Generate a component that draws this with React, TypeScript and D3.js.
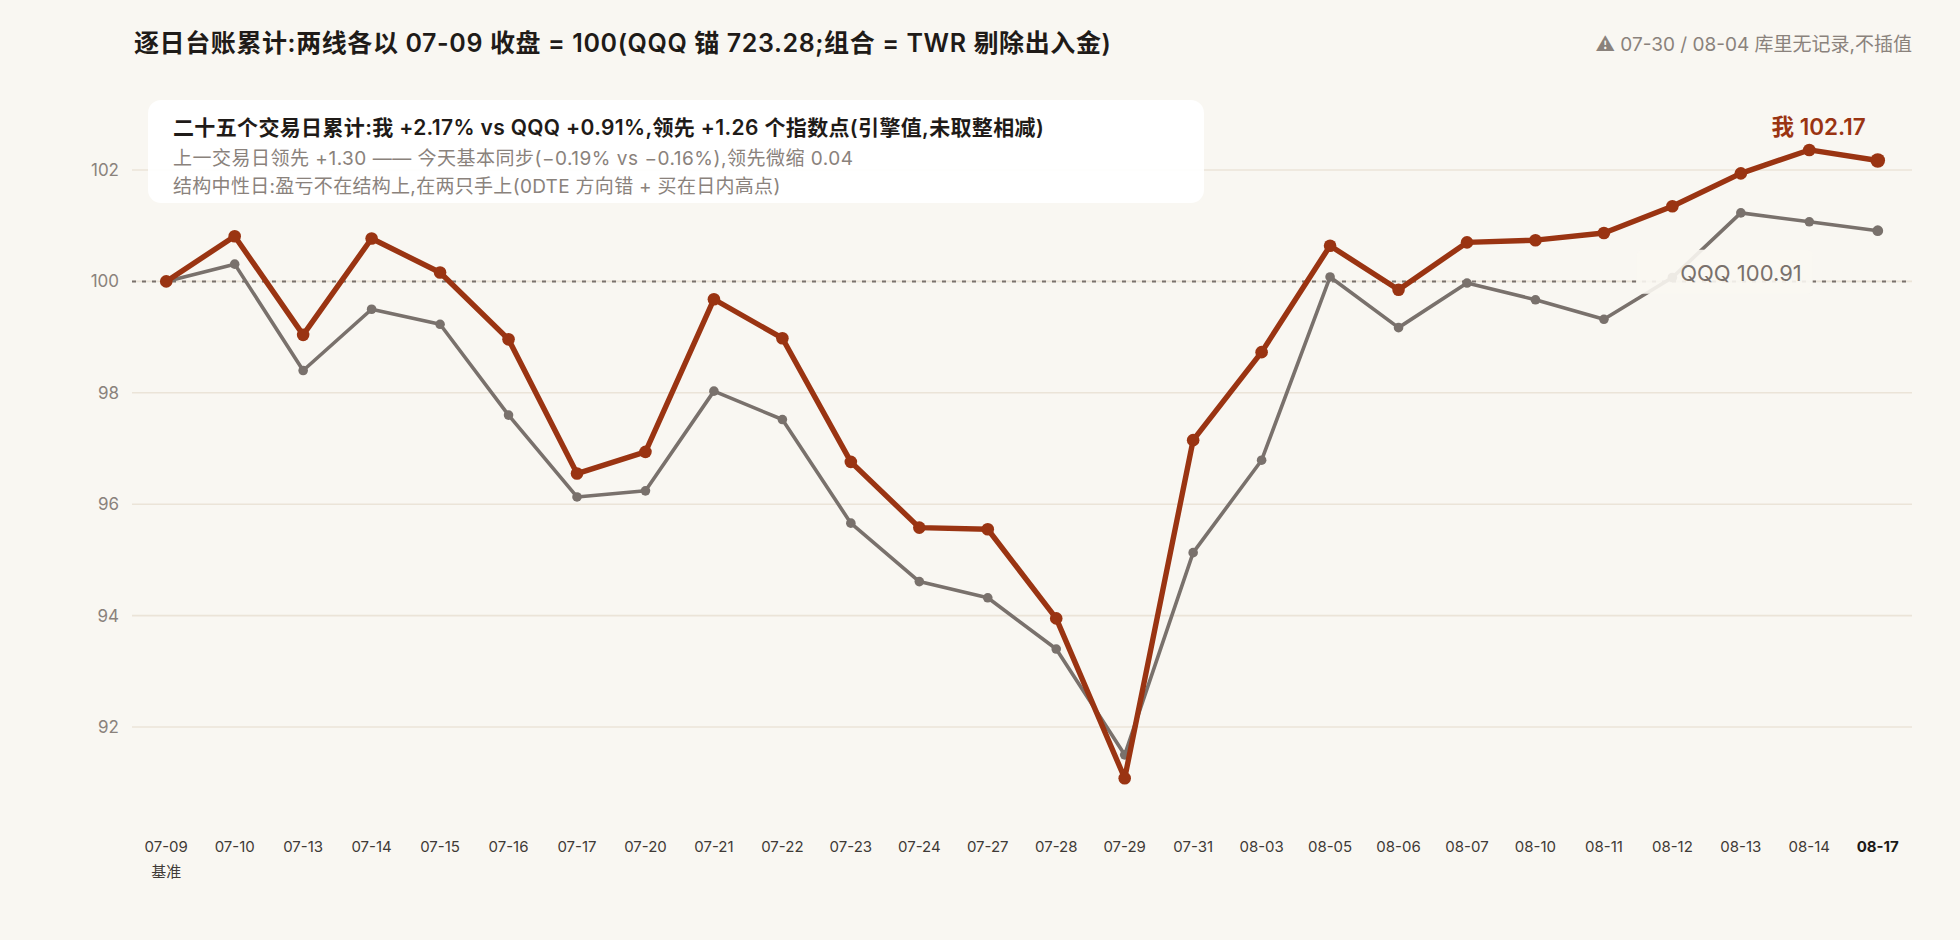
import { useRef, useEffect } from "react";
import * as d3 from "d3";

const dates = [
  "07-09", "07-10", "07-13", "07-14", "07-15", "07-16", "07-17", "07-20",
  "07-21", "07-22", "07-23", "07-24", "07-27", "07-28", "07-29", "07-31",
  "08-03", "08-05", "08-06", "08-07", "08-10", "08-11", "08-12", "08-13",
  "08-14", "08-17",
];

// 我 (组合 TWR)
const mine = [
  100, 100.81, 99.04, 100.77, 100.16, 98.96, 96.55, 96.94, 99.68, 98.98,
  96.76, 95.58, 95.55, 93.95, 91.08, 97.15, 98.73, 100.64, 99.85, 100.7,
  100.74, 100.87, 101.35, 101.94, 102.36, 102.17,
];

// QQQ
const qqq = [
  100, 100.31, 98.4, 99.5, 99.23, 97.6, 96.13, 96.24, 98.03, 97.52, 95.66,
  94.61, 94.32, 93.4, 91.5, 95.13, 96.79, 100.08, 99.17, 99.97, 99.67, 99.32,
  100.07, 101.23, 101.07, 100.91,
];

const yTicks = [92, 94, 96, 98, 100, 102];

const title =
  "逐日台账累计:两线各以 07-09 收盘 = 100(QQQ 锚 723.28;组合 = TWR 剔除出入金)";
const note = "⚠ 07-30 / 08-04 库里无记录,不插值";
const boxLines = [
  "二十五个交易日累计:我 +2.17% vs QQQ +0.91%,领先 +1.26 个指数点(引擎值,未取整相减)",
  "上一交易日领先 +1.30 —— 今天基本同步(−0.19% vs −0.16%),领先微缩 0.04",
  "结构中性日:盈亏不在结构上,在两只手上(0DTE 方向错 + 买在日内高点)",
];

const W = 1960;
const H = 940;
const bg = "#f9f7f2";
const red = "#9a3412";
const grey = "#79716c";
const font = "Inter, 'Noto Sans CJK SC', sans-serif";

export default function App() {
  const svgRef = useRef<SVGSVGElement>(null);

  useEffect(() => {
    if (!svgRef.current) return;
    const svg = d3.select(svgRef.current);
    svg.selectAll("*").remove();

    const x = d3.scalePoint<string>().domain(dates).range([132, 1912]).padding(0.5);
    const y = d3.scaleLinear().domain([92, 102]).range([727, 170]);

    svg.append("rect").attr("width", W).attr("height", H).attr("fill", bg);

    // grid
    svg
      .selectAll("line.grid")
      .data(yTicks)
      .join("line")
      .attr("class", "grid")
      .attr("x1", 132)
      .attr("x2", 1912)
      .attr("y1", (d) => y(d))
      .attr("y2", (d) => y(d))
      .attr("stroke", "#ebe4d8")
      .attr("stroke-width", 1.6);

    svg
      .append("line")
      .attr("x1", 132)
      .attr("x2", 1912)
      .attr("y1", y(100))
      .attr("y2", y(100))
      .attr("stroke", grey)
      .attr("stroke-width", 2)
      .attr("stroke-dasharray", "4 6");

    svg
      .selectAll("text.ytick")
      .data(yTicks)
      .join("text")
      .attr("class", "ytick")
      .attr("x", 119)
      .attr("y", (d) => y(d))
      .attr("dy", "0.35em")
      .attr("text-anchor", "end")
      .attr("font-family", font)
      .attr("font-size", 17)
      .attr("fill", "#8a827c")
      .text((d) => d);

    // x labels
    svg
      .selectAll("text.xtick")
      .data(dates)
      .join("text")
      .attr("class", "xtick")
      .attr("x", (d) => x(d)!)
      .attr("y", 852)
      .attr("text-anchor", "middle")
      .attr("font-family", font)
      .attr("font-size", 15)
      .attr("font-weight", (_, i) => (i === dates.length - 1 ? 700 : 400))
      .attr("fill", (_, i) => (i === dates.length - 1 ? "#1c1917" : "#3f3a36"))
      .text((d) => d);

    svg
      .append("text")
      .attr("x", x(dates[0])!)
      .attr("y", 877)
      .attr("text-anchor", "middle")
      .attr("font-family", font)
      .attr("font-size", 15)
      .attr("fill", "#3f3a36")
      .text("基准");

    const line = d3
      .line<number>()
      .x((_, i) => x(dates[i])!)
      .y((d) => y(d));

    const series = [
      { values: qqq, color: grey, width: 3.6, r: 4.8, rLast: 5.4 },
      { values: mine, color: red, width: 5.4, r: 6.3, rLast: 7.3 },
    ];

    for (const s of series) {
      svg
        .append("path")
        .attr("d", line(s.values))
        .attr("fill", "none")
        .attr("stroke", s.color)
        .attr("stroke-width", s.width)
        .attr("stroke-linejoin", "round");
      svg
        .append("g")
        .selectAll("circle")
        .data(s.values)
        .join("circle")
        .attr("cx", (_, i) => x(dates[i])!)
        .attr("cy", (d) => y(d))
        .attr("r", (_, i) => (i === s.values.length - 1 ? s.rLast : s.r))
        .attr("fill", s.color);
    }

    // end labels
    const lastX = x(dates[dates.length - 1])!;
    const qLast = qqq[qqq.length - 1];
    const mLast = mine[mine.length - 1];
    const qEnd = lastX - 76;
    const qBase = y(qLast) + 50;

    svg
      .append("rect")
      .attr("x", qEnd - 165)
      .attr("y", qBase - 31)
      .attr("width", 176)
      .attr("height", 44)
      .attr("rx", 6)
      .attr("fill", bg)
      .attr("opacity", 0.9);

    svg
      .append("text")
      .attr("x", qEnd)
      .attr("y", qBase)
      .attr("text-anchor", "end")
      .attr("font-family", font)
      .attr("font-size", 22)
      .attr("fill", grey)
      .text(`QQQ ${qLast.toFixed(2)}`);

    svg
      .append("text")
      .attr("x", lastX - 12)
      .attr("y", y(mLast) - 26)
      .attr("text-anchor", "end")
      .attr("font-family", font)
      .attr("font-size", 22.5)
      .attr("font-weight", 600)
      .attr("fill", red)
      .text(`我 ${mLast.toFixed(2)}`);

    // summary box
    svg
      .append("rect")
      .attr("x", 148)
      .attr("y", 100)
      .attr("width", 1056)
      .attr("height", 103)
      .attr("rx", 13)
      .attr("fill", "#ffffff")
      .attr("opacity", 0.94);

    svg
      .selectAll("text.box")
      .data(boxLines)
      .join("text")
      .attr("class", "box")
      .attr("x", 173)
      .attr("y", (_, i) => [135, 165, 193][i])
      .attr("font-family", font)
      .attr("font-size", (_, i) => (i === 0 ? 21 : 19))
      .attr("letter-spacing", (_, i) => [0.35, 0.5, 0.3][i])
      .attr("font-weight", (_, i) => (i === 0 ? 600 : 400))
      .attr("fill", (_, i) => (i === 0 ? "#1f1b18" : "#8a827c"))
      .text((d) => d);

    // title + note
    svg
      .append("text")
      .attr("x", 134)
      .attr("y", 52)
      .attr("font-family", font)
      .attr("font-size", 25)
      .attr("letter-spacing", 0.6)
      .attr("font-weight", 600)
      .attr("fill", "#1f1b18")
      .text(title);

    svg
      .append("text")
      .attr("x", 1912)
      .attr("y", 51)
      .attr("text-anchor", "end")
      .attr("font-family", font)
      .attr("font-size", 19)
      .attr("fill", "#8a827c")
      .text(note);
  }, []);

  return (
    <>
      <style>{`body{margin:0;background:${bg}}`}</style>
      <svg ref={svgRef} width={W} height={H} viewBox={`0 0 ${W} ${H}`} style={{ display: "block" }} />
    </>
  );
}
